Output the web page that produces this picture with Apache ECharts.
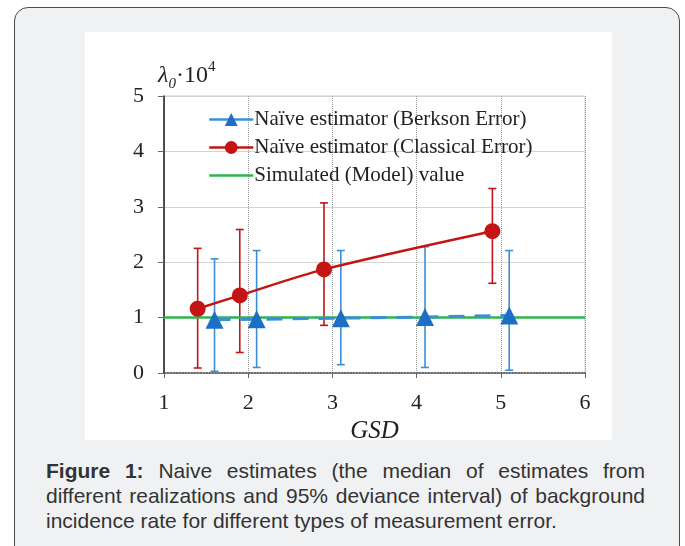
<!DOCTYPE html>
<html>
<head>
<meta charset="utf-8">
<script src="https://cdn.jsdelivr.net/npm/echarts@6/dist/echarts.min.js"></script>
<style>
  html, body { margin: 0; padding: 0; width: 685px; height: 546px; overflow: hidden; background: #fff; }
  .card {
    position: absolute; left: 14px; top: 7px; width: 666px; height: 570px;
    background: #f0f1f3; border: 1.5px solid #4a4a4a; border-radius: 14px; box-sizing: border-box;
  }
  .panel { position: absolute; left: 85px; top: 32px; width: 527px; height: 408px; background: #fff; }
  .caption {
    position: absolute; left: 46px; top: 458px; width: 599px;
    font-family: "Liberation Sans", Arial, sans-serif; font-size: 21px; line-height: 25px;
    color: #333; text-align: justify;
  }
</style>
</head>
<body>
<div class="card"></div>
<div class="panel" id="chart"></div>
<div class="caption"><b>Figure 1:</b> Naive estimates (the median of estimates from different realizations and 95% deviance interval) of background incidence rate for different types of measurement error.</div>
<script>
// GSD positions and medians / 95% intervals
const berksonX = [1.6, 2.1, 3.1, 4.1, 5.1]
const berksonMed = [0.96, 0.97, 0.99, 1.01, 1.04]
const berksonLow = [0.03, 0.1, 0.15, 0.1, 0.05]
const berksonHigh = [2.06, 2.21, 2.21, 2.28, 2.21]

const classicalX = [1.4, 1.9, 2.9, 4.9]
const classicalMed = [1.16, 1.4, 1.87, 2.56]
const classicalLow = [0.09, 0.37, 0.86, 1.62]
const classicalHigh = [2.25, 2.59, 3.07, 3.33]

const modelX = [1, 6]
const modelVal = [1, 1]

const xTicks = [1, 2, 3, 4, 5, 6]
const yTicks = [0, 1, 2, 3, 4, 5]

const names = [
  'Naïve estimator (Berkson Error)',
  'Naïve estimator (Classical Error)',
  'Simulated (Model) value'
]

const blue = '#1c6fc4'
const blueBar = '#3b8fd6'
const red = '#c41414'
const green = '#2db44c'
const serif = '"Liberation Serif", "Times New Roman", serif'

const pairs = (xs, ys) => xs.map((x, i) => [x, ys[i]])
const bars = (xs, lo, hi) => xs.map((x, i) => [x, lo[i], hi[i]])

const errorBarSeries = (data, color) => ({
  type: 'custom',
  data: data,
  z: 1,
  silent: true,
  encode: { x: 0, y: [1, 2] },
  renderItem: function (params, api) {
    const x = api.value(0)
    const lo = api.coord([x, api.value(1)])
    const hi = api.coord([x, api.value(2)])
    const w = 4
    const style = { stroke: color, lineWidth: 1.6, fill: null }
    return {
      type: 'group',
      children: [
        { type: 'line', shape: { x1: lo[0], y1: lo[1], x2: hi[0], y2: hi[1] }, style },
        { type: 'line', shape: { x1: lo[0] - w, y1: lo[1], x2: lo[0] + w, y2: lo[1] }, style },
        { type: 'line', shape: { x1: hi[0] - w, y1: hi[1], x2: hi[0] + w, y2: hi[1] }, style }
      ]
    }
  }
})

const chart = echarts.init(document.getElementById('chart'))

const option = {
  animation: false,
  grid: {
    left: 79, right: 27, top: 64, bottom: 67,
    outerBoundsMode: 'none',
    containLabel: false,
    show: true, borderColor: '#cfcfcf', borderWidth: 1
  },
  graphic: [{
    type: 'text',
    left: 73,
    top: 28,
    style: {
      text: '{a|λ}{b|0}{c|·10}{d|4}',
      rich: {
        a: { fontFamily: serif, fontStyle: 'italic', fontSize: 24, fill: '#222', lineHeight: 32, verticalAlign: 'middle' },
        b: { fontFamily: serif, fontStyle: 'italic', fontSize: 15, fill: '#222', lineHeight: 32, verticalAlign: 'bottom' },
        c: { fontFamily: serif, fontSize: 24, fill: '#222', lineHeight: 32, verticalAlign: 'middle' },
        d: { fontFamily: serif, fontSize: 15, fill: '#222', lineHeight: 32, verticalAlign: 'top' }
      }
    }
  }],
  legend: {
    orient: 'vertical',
    left: 118,
    top: 72,
    itemWidth: 44,
    itemHeight: 16,
    itemGap: 7,
    textStyle: { fontFamily: serif, fontSize: 21, lineHeight: 21, color: '#222', padding: [0, 0, 0, -4] },
    data: [
      { name: names[0], lineStyle: { type: 'solid', width: 2.5 } },
      { name: names[1], lineStyle: { width: 2.5 } },
      { name: names[2], lineStyle: { width: 2.5 }, itemStyle: { color: 'rgba(0,0,0,0)', opacity: 0 } }
    ]
  },
  xAxis: {
    type: 'value',
    min: xTicks[0],
    max: xTicks[xTicks.length - 1],
    interval: 1,
    name: 'GSD',
    nameLocation: 'middle',
    nameGap: 37,
    nameTextStyle: { fontFamily: serif, fontStyle: 'italic', fontSize: 25, color: '#222' },
    axisLine: { lineStyle: { color: '#444', width: 1.5, type: 'dotted' } },
    axisTick: { show: true, length: 5, lineStyle: { color: '#666' } },
    axisLabel: { fontFamily: serif, fontSize: 22, color: '#222', margin: 19 },
    splitLine: { show: true, lineStyle: { color: '#999', type: 'dotted', width: 1 } }
  },
  yAxis: {
    type: 'value',
    min: yTicks[0],
    max: yTicks[yTicks.length - 1],
    interval: 1,
    axisLine: { show: true, lineStyle: { color: '#222', width: 1.5 } },
    axisTick: { show: true, length: 6, lineStyle: { color: '#666' } },
    axisLabel: { fontFamily: serif, fontSize: 22, color: '#222', margin: 20 },
    splitLine: { show: true, lineStyle: { color: '#d4d4d4', width: 1 } }
  },
  series: [
    errorBarSeries(bars(classicalX, classicalLow, classicalHigh), red),
    errorBarSeries(bars(berksonX, berksonLow, berksonHigh), blueBar),
    {
      name: names[0],
      type: 'line',
      data: pairs(berksonX, berksonMed),
      symbol: 'triangle',
      symbolSize: 18,
      z: 4,
      itemStyle: { color: blue },
      lineStyle: { color: blueBar, width: 3, type: [16, 10] }
    },
    {
      name: names[2],
      type: 'line',
      data: pairs(modelX, modelVal),
      symbol: 'none',
      z: 3,
      itemStyle: { color: green },
      lineStyle: { color: green, width: 2.5 }
    },
    {
      name: names[1],
      type: 'line',
      data: pairs(classicalX, classicalMed),
      symbol: 'circle',
      symbolSize: 16,
      smooth: 0.3,
      z: 5,
      itemStyle: { color: red },
      lineStyle: { color: red, width: 2.5 }
    }
  ]
}

chart.setOption(option)
</script>
</body>
</html>
